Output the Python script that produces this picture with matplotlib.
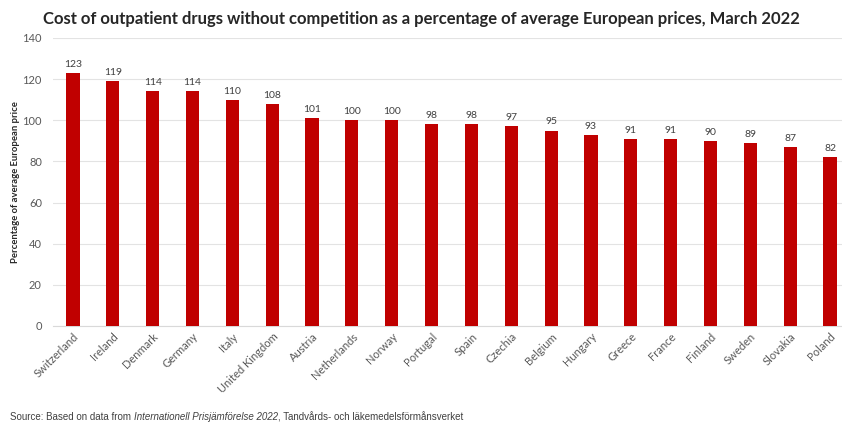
import numpy as np
import matplotlib.pyplot as plt

countries = ['Switzerland', 'Ireland', 'Denmark', 'Germany', 'Italy', 'United Kingdom',
             'Austria', 'Netherlands', 'Norway', 'Portugal', 'Spain', 'Czechia', 'Belgium',
             'Hungary', 'Greece', 'France', 'Finland', 'Sweden', 'Slovakia', 'Poland']
values = [123, 119, 114, 114, 110, 108, 101, 100, 100, 98, 98, 97, 95, 93, 91, 91, 90, 89, 87, 82]
yticks = [0, 20, 40, 60, 80, 100, 120, 140]

plt.rcParams['font.family'] = ['Lato', 'DejaVu Sans']

fig = plt.figure(figsize=(8.42, 4.24), dpi=100)
ax = fig.add_axes([53/842, 98/424, 797/842, 288/424])

x = np.arange(len(countries))
ax.bar(x, values, width=0.33, color='#C00000', zorder=3)
for xi, v in zip(x, values):
    ax.text(xi, v + 2, str(v), ha='center', va='bottom', fontsize=7.5, color='#404040')

ax.set_xlim(-0.5, len(countries) - 0.5)
ax.set_ylim(0, 140)
ax.set_yticks(yticks)
ax.grid(axis='y', color='#E3E3E3', linewidth=0.8, zorder=0)
for s in ['top', 'right', 'left']:
    ax.spines[s].set_visible(False)
ax.spines['bottom'].set_color('#D9D9D9')
ax.tick_params(axis='both', length=0, labelsize=8, labelcolor='#595959')
ax.tick_params(axis='y', pad=8)
ax.set_xticks(x)
ax.set_xticklabels(countries, rotation=45, ha='right', rotation_mode='anchor')
ax.set_ylabel('Percentage of average European price', fontsize=6.8, fontweight='bold',
              color='#262626', labelpad=2)

fig.text(0.5, 0.955, 'Cost of outpatient drugs without competition as a percentage of average European prices, March 2022',
         ha='center', va='center', fontsize=12, fontweight='bold', color='#262626')

# source line, pieces chained so the italic part sits right
src = dict(fontsize=7, color='#404040', family='Liberation Sans', va='baseline')
t1 = fig.text(10/842, 4/424, 'Source: Based on data from ', **src)
t2 = fig.text(0, 4/424, 'Internationell Prisjämförelse 2022', style='italic', **src)
t3 = fig.text(0, 4/424, ', Tandvårds- och läkemedelsförmånsverket', **src)
fig.canvas.draw()
r = fig.canvas.get_renderer()
inv = fig.transFigure.inverted()
bb1 = t1.get_window_extent(r)
t2.set_x(inv.transform((bb1.x1, 0))[0])
fig.canvas.draw()
bb2 = t2.get_window_extent(r)
t3.set_x(inv.transform((bb2.x1, 0))[0])

fig.savefig('out.png', dpi=100)
